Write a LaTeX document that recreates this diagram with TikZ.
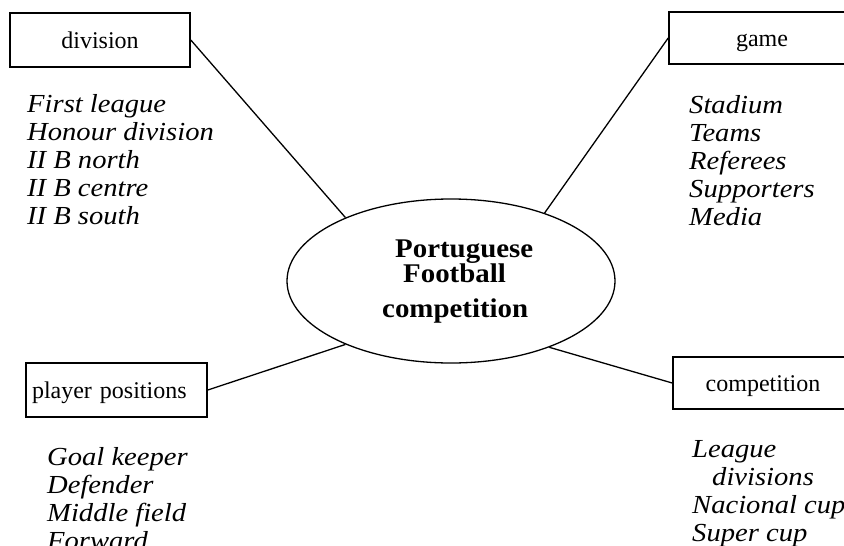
\documentclass[tikz,border=0pt]{standalone}
\usepackage{fontspec}
\setmainfont{Liberation Serif}
\newfontfamily\listfont{Liberation Serif}[FakeStretch=1.1]
\newfontfamily\titlefont{Liberation Serif}[FakeStretch=1.07]
\usetikzlibrary{shapes.geometric}
\begin{document}
\begin{tikzpicture}[x=1pt,y=-1pt,
  catbox/.style={draw, line width=1.6pt, minimum height=54pt, inner sep=0pt, text height=19pt, text depth=3pt, font=\fontsize{24}{28}\selectfont},
  itemlist/.style={anchor=base west, align=left, inner sep=0pt, font=\listfont\itshape\fontsize{26}{28}\selectfont},
  titleline/.style={anchor=base west, inner sep=0pt, font=\titlefont\bfseries\fontsize{27}{30}\selectfont},
  link/.style={line width=1.3pt}]
\useasboundingbox (0,0) rectangle (844,546);
\clip (0,0) rectangle (844,546);
\node[draw, ellipse, line width=1.3pt, minimum width=328pt, minimum height=164pt, inner sep=0pt] (hub) at (451,281) {};
\node[catbox, minimum width=180pt] (div) at (100,40) {division};
\node[catbox, minimum width=186pt, minimum height=52pt] (game) at (762,38) {game};
\node[catbox, text width=169pt, align=left, inner xsep=6pt] (pos) at (116.5,390) {player positions};
\node[catbox, minimum width=180pt, minimum height=52pt] (comp) at (763,383) {competition};
\draw[link] (div.east) -- (hub.149);
\draw[link] (game.west) -- (hub.36);
\draw[link] (pos.east) -- (hub.211);
\draw[link] (comp.west) -- (hub.326);
\node[titleline] (t1) at (395,257) {Portuguese};
\node[titleline] (t2) at (403,282) {Football};
\node[titleline] (t3) at (382,317) {competition};
% base anchor of a multi-line node lies on its last line
\node[itemlist] (divlist) at (27,224) {First league\\Honour division\\II B north\\II B centre\\II B south};
\node[itemlist] (gamelist) at (689,225) {Stadium\\Teams\\Referees\\Supporters\\Media};
\node[itemlist] (poslist) at (47,549) {Goal keeper\\Defender\\Middle field\\Forward};
\node[itemlist] (complist) at (692,541) {League\\\hspace*{20pt}divisions\\Nacional cup\\Super cup};
\end{tikzpicture}
\end{document}
